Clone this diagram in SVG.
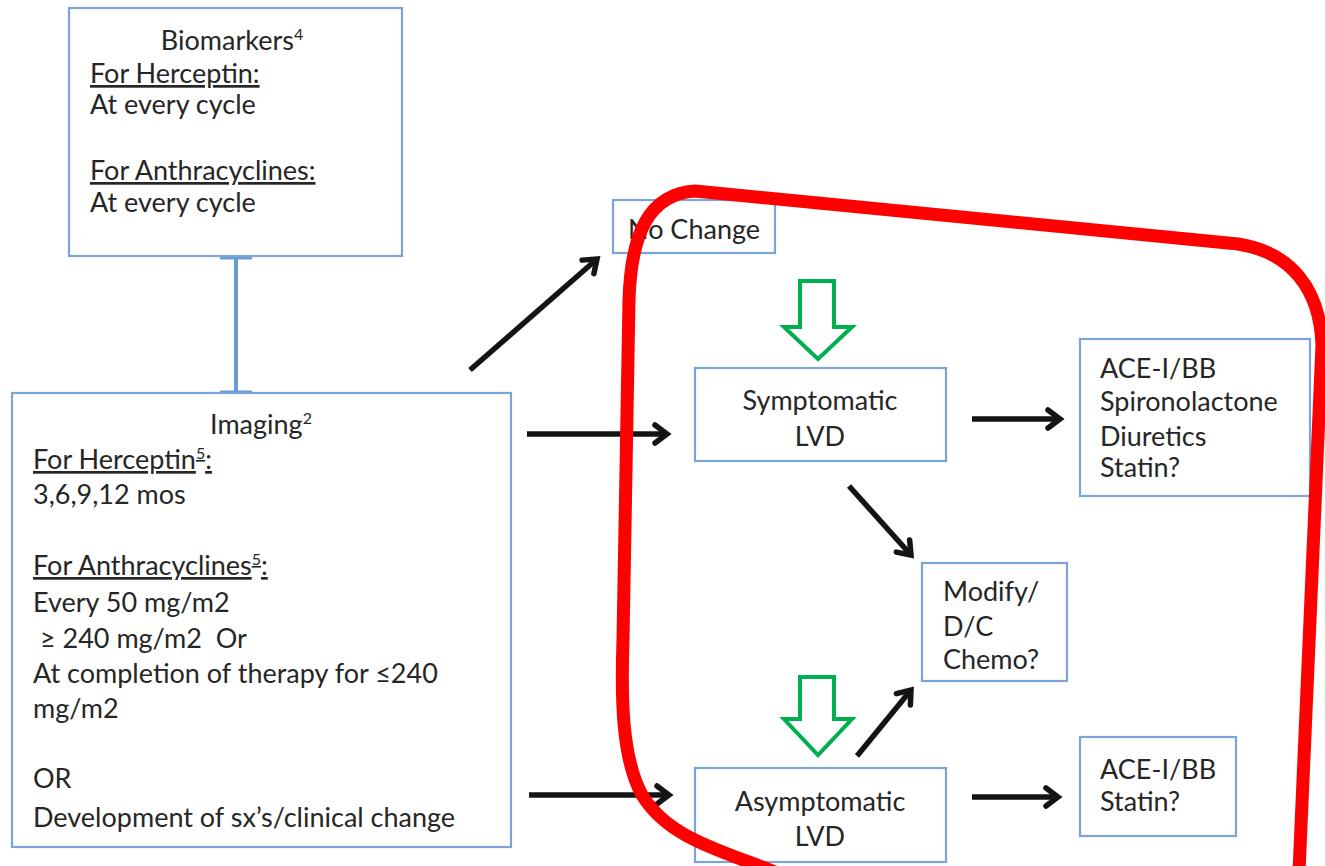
<svg xmlns="http://www.w3.org/2000/svg" width="1325" height="866" viewBox="0 0 1325 866">
<style>
.box{fill:#fff;stroke:#7ba4d8;stroke-width:2.2}
.t{font-family:Lato,"Open Sans","Liberation Sans",sans-serif;font-size:27px;fill:#262626}
.u{text-decoration:underline}
.sup{font-size:16px}
.arr{stroke:#141414;stroke-width:5.5;fill:none;marker-end:url(#ah)}
.green{fill:#fff;stroke:#00b04f;stroke-width:4;stroke-linejoin:miter}
</style>
<defs>
<marker id="ah" markerUnits="userSpaceOnUse" markerWidth="24" markerHeight="24" refX="18" refY="12" orient="auto" viewBox="0 0 24 24">
<path d="M6,3 L18,12 L6,21" fill="none" stroke="#141414" stroke-width="5.5" stroke-linecap="round" stroke-linejoin="miter"/>
</marker>
</defs>
<rect width="1325" height="866" fill="#fff"/>

<g id="connectors">
<g id="bio-img">
<line x1="236" y1="257" x2="236" y2="393" stroke="#6b9bd2" stroke-width="4"/>
<line x1="220" y1="257" x2="252" y2="257" stroke="#6b9bd2" stroke-width="5"/>
<line x1="220" y1="393" x2="252" y2="393" stroke="#6b9bd2" stroke-width="5"/>
</g>
<line class="arr" x1="470" y1="370" x2="597" y2="259"/>
<line class="arr" x1="527" y1="434" x2="667" y2="434"/>
<line class="arr" x1="529" y1="795" x2="669" y2="795"/>
<line class="arr" x1="972" y1="419" x2="1060" y2="419"/>
<line class="arr" x1="849" y1="486" x2="911" y2="555"/>
<line class="arr" x1="857" y1="756" x2="911" y2="690"/>
<line class="arr" x1="972" y1="797" x2="1058" y2="797"/>
</g>

<g id="biomarkers">
<rect class="box" x="69" y="8" width="333" height="248"/>
<text class="t" x="232" y="50" text-anchor="middle">Biomarkers<tspan class="sup" dy="-10">4</tspan></text>
<text class="t u" x="90" y="83">For Herceptin:</text>
<text class="t" x="90" y="114">At every cycle</text>
<text class="t u" x="90" y="180">For Anthracyclines:</text>
<text class="t" x="90" y="212">At every cycle</text>
</g>

<g id="imaging">
<rect class="box" x="12" y="393" width="499" height="454"/>
<text class="t" x="261" y="434" text-anchor="middle">Imaging<tspan class="sup" dy="-10">2</tspan></text>
<text class="t u" x="33" y="469">For Herceptin<tspan class="sup" dy="-10">5</tspan><tspan dy="10">:</tspan></text>
<text class="t" x="33" y="504">3,6,9,12 mos</text>
<text class="t u" x="33" y="575">For Anthracyclines<tspan class="sup" dy="-10">5</tspan><tspan dy="10">:</tspan></text>
<text class="t" x="33" y="612">Every 50 mg/m2</text>
<text class="t" x="33" y="648" xml:space="preserve"> ≥ 240 mg/m2  Or</text>
<text class="t" x="33" y="683">At completion of therapy for ≤240</text>
<text class="t" x="33" y="718">mg/m2</text>
<text class="t" x="33" y="788">OR</text>
<text class="t" x="33" y="827">Development of sx’s/clinical change</text>
</g>

<g id="nochange">
<rect class="box" x="613" y="200" width="162" height="53"/>
<text class="t" x="694" y="239" text-anchor="middle">No Change</text>
</g>

<g id="symptomatic">
<rect class="box" x="695" y="368" width="251" height="93"/>
<text class="t" x="820" y="410" text-anchor="middle">Symptomatic</text>
<text class="t" x="820" y="446" text-anchor="middle">LVD</text>
</g>

<g id="ace1">
<rect class="box" x="1080" y="339" width="230" height="157"/>
<text class="t" x="1100" y="378">ACE-I/BB</text>
<text class="t" x="1100" y="411">Spironolactone</text>
<text class="t" x="1100" y="446">Diuretics</text>
<text class="t" x="1100" y="477">Statin?</text>
</g>

<g id="modify">
<rect class="box" x="922" y="563" width="145" height="118"/>
<text class="t" x="943" y="601">Modify/</text>
<text class="t" x="943" y="636">D/C</text>
<text class="t" x="943" y="669">Chemo?</text>
</g>

<g id="asymptomatic">
<rect class="box" x="695" y="768" width="251" height="94"/>
<text class="t" x="820" y="811" text-anchor="middle">Asymptomatic</text>
<text class="t" x="820" y="846" text-anchor="middle">LVD</text>
</g>

<g id="ace2">
<rect class="box" x="1080" y="737" width="156" height="99"/>
<text class="t" x="1100" y="779">ACE-I/BB</text>
<text class="t" x="1100" y="811">Statin?</text>
</g>

<g id="green-arrows">
<polygon class="green" points="800,281 834,281 834,327 852,327 818,359 784,327 800,327"/>
<polygon class="green" points="800,677 834,677 834,719 852,719 818,755 784,719 800,719"/>
</g>

<g id="red-loop">
<path d="M 775 872 C 720 850, 668 838, 642 795 C 622 758, 621 700, 623 640 L 629 300 C 631 235, 648 194, 695 191 L 1238 244 C 1290 252, 1320 288, 1322 345 L 1299 872" fill="none" stroke="#ff0000" stroke-width="13" stroke-linejoin="round" stroke-linecap="round"/>
</g>
</svg>
